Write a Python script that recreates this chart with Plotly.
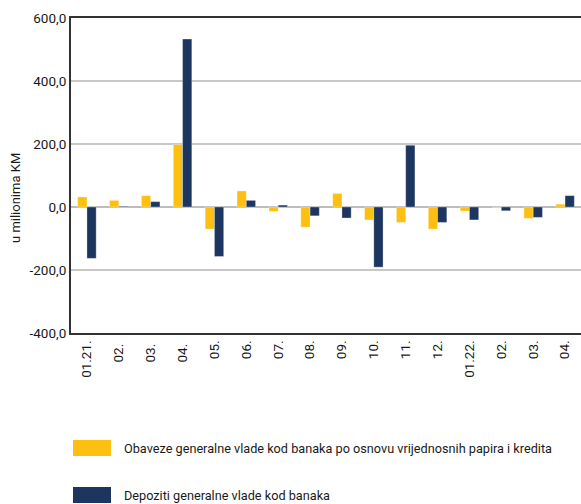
import plotly.graph_objects as go

categories = ["01.21.", "02. ", "03. ", "04. ", "05.", "06.", "07.", "08.", "09.", "10.",
              "11.", "12.", "01.22.", "02.", "03.", "04."]
obaveze = [32, 21, 36, 198, -70, 51, -14, -64, 43, -41, -49, -70, -13, -1, -36, 9]
depoziti = [-163, 2, 17, 533, -157, 21, 6, -28, -35, -191, 196, -49, -41, -12, -33, 36]
y_tickvals = [-400, -200, 0, 200, 400, 600]
y_ticktext = ["-400,0", "-200,0", "0,0", "200,0", "400,0", "600,0"]
name_obaveze = "Obaveze generalne vlade kod banaka po osnovu vrijednosnih papira i kredita"
name_depoziti = "Depoziti generalne vlade kod banaka"

YELLOW = "#FDC010"
BLUE = "#1C3660"
FONT = "Roboto, sans-serif"

W, H = 581, 504
L, R, T, B = 71, 0, 18, 171
pw, ph = W - L - R, H - T - B

def px_x(x):
    return (x - L) / pw

def px_y(y):
    return (H - B - y) / ph

fig = go.Figure()
fig.add_bar(x=categories, y=obaveze, name=name_obaveze, marker_color=YELLOW,
            marker_line=dict(color="rgba(255,255,255,0.6)", width=0.5))
fig.add_bar(x=categories, y=depoziti, name=name_depoziti, marker_color=BLUE,
            marker_line=dict(color="rgba(255,255,255,0.6)", width=0.5))

fig.update_layout(
    width=W, height=H,
    margin=dict(l=L, r=R, t=T, b=B),
    barmode="group", bargap=0.42, bargroupgap=0,
    plot_bgcolor="white", paper_bgcolor="white",
    showlegend=False,
    font=dict(family=FONT, size=13, color="#1a1a1a"),
    xaxis=dict(
        type="category", tickangle=-90, showgrid=False,
        showline=True, linecolor="#333333", linewidth=2, mirror=True,
        ticks="", tickfont=dict(size=13.5),
    ),
    yaxis=dict(
        range=[-400, 600], tickvals=y_tickvals, ticktext=y_ticktext,
        showgrid=True, gridcolor="#C8C8C8", gridwidth=1.5,
        zeroline=True, zerolinecolor="#BDBDBD", zerolinewidth=1.5,
        showline=True, linecolor="#333333", linewidth=2,
        ticks="", tickfont=dict(size=13.5),
    ),
)

fig.add_annotation(text="u milionima KM", textangle=-90, xref="paper", yref="paper",
                   x=px_x(15), y=px_y(198), showarrow=False, font=dict(size=13),
                   xanchor="center", yanchor="middle")

legend_items = [(name_obaveze, YELLOW, 440), (name_depoziti, BLUE, 487)]
for name, color, top in legend_items:
    fig.add_shape(type="rect", xref="paper", yref="paper",
                  x0=px_x(73), x1=px_x(111), y0=px_y(top), y1=px_y(top + 16),
                  fillcolor=color, line_width=0)
    fig.add_annotation(text=name, xref="paper", yref="paper",
                       x=px_x(122), y=px_y(top + 8), xanchor="left", yanchor="middle",
                       showarrow=False, font=dict(size=12.7))

fig.write_html("out.html", config={"displayModeBar": False},
               post_script="document.body.style.margin='0';")
